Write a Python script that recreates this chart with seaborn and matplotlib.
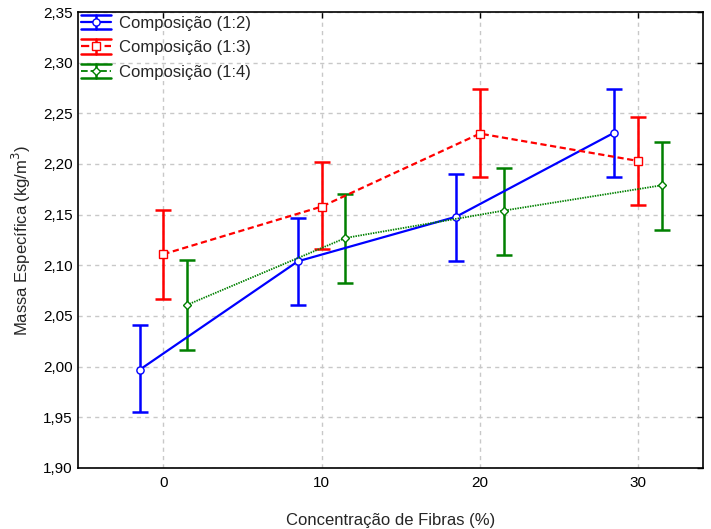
import matplotlib
matplotlib.use("Agg")
import matplotlib.pyplot as plt
from matplotlib.ticker import FuncFormatter, MultipleLocator
from matplotlib.legend_handler import HandlerBase
from matplotlib.lines import Line2D
import seaborn as sns
import pandas as pd

# ---- data ----
concentration = [0, 10, 20, 30]
series_names = ["Composição (1:2)", "Composição (1:3)", "Composição (1:4)"]
offsets = [-1.5, 0.0, 1.5]

mean_12 = [1.997, 2.104, 2.148, 2.231]
low_12 = [1.955, 2.061, 2.104, 2.187]
high_12 = [2.041, 2.147, 2.190, 2.274]

mean_13 = [2.111, 2.158, 2.230, 2.203]
low_13 = [2.067, 2.116, 2.187, 2.160]
high_13 = [2.155, 2.202, 2.274, 2.246]

mean_14 = [2.061, 2.127, 2.154, 2.179]
low_14 = [2.016, 2.083, 2.110, 2.135]
high_14 = [2.105, 2.170, 2.196, 2.222]

means = [mean_12, mean_13, mean_14]
lows = [low_12, low_13, low_14]
highs = [high_12, high_13, high_14]

colors = ["#0000ff", "#ff0000", "#008000"]
markers = ["o", "s", "D"]
msizes = [5.2, 6.0, 4.5]
dashes = [None, (2.8, 1.6), (0.8, 0.6)]
lws = [1.6, 1.6, 1.3]

sns.set_style("white")
plt.rcParams["font.family"] = ["Liberation Sans", "DejaVu Sans"]

rows = []
for name, off, m, lo, hi in zip(series_names, offsets, means, lows, highs):
    for c, mv, l, h in zip(concentration, m, lo, hi):
        rows.append({"serie": name, "x": c + off, "y": mv, "lo": l, "hi": h})
df = pd.DataFrame(rows)

fig = plt.figure(figsize=(7.11, 5.29), dpi=100)
ax = fig.add_axes([78 / 711, 61 / 529, (703 - 78) / 711, (468 - 12) / 529])

lines = []
for i, name in enumerate(series_names):
    sub = df[df["serie"] == name]
    ax.errorbar(sub["x"], sub["y"],
                yerr=[sub["y"] - sub["lo"], sub["hi"] - sub["y"]],
                fmt="none", ecolor=colors[i], elinewidth=1.8,
                capsize=6, capthick=1.8, zorder=3)
    sns.lineplot(data=sub, x="x", y="y", ax=ax, color=colors[i],
                 linewidth=lws[i], marker=markers[i], markersize=msizes[i],
                 markerfacecolor="white", markeredgecolor=colors[i],
                 markeredgewidth=1.0, legend=False, zorder=4,
                 sort=False, errorbar=None)
    ln = ax.lines[-1]
    if dashes[i] is not None:
        ln.set_dashes(dashes[i])
    lines.append(ln)


class ErrorbarLegendHandler(HandlerBase):
    def create_artists(self, legend, orig, xdescent, ydescent, width, height,
                       fontsize, trans):
        c = orig.get_color()
        x0, x1 = -xdescent, width - xdescent
        y0, y1 = -ydescent, height - ydescent
        ym = (y0 + y1) / 2
        xm = (x0 + x1) / 2
        arts = [
            Line2D([x0, x1], [y0, y0], color=c, lw=1.8),
            Line2D([x0, x1], [y1, y1], color=c, lw=1.8),
            Line2D([xm, xm], [y0, y1], color=c, lw=1.8),
            Line2D([x0, x1], [ym, ym], color=c, lw=orig.get_linewidth(),
                   linestyle=orig.get_linestyle()),
            Line2D([xm], [ym], marker=orig.get_marker(),
                   markersize=orig.get_markersize(), markerfacecolor="white",
                   markeredgecolor=c, markeredgewidth=1.0, linestyle="none"),
        ]
        for a in arts:
            a.set_transform(trans)
        return arts


ax.set_xlim(-5.4, 34.1)
ax.set_ylim(1.90, 2.35)
ax.xaxis.set_major_locator(MultipleLocator(10))
ax.yaxis.set_major_locator(MultipleLocator(0.05))
ax.yaxis.set_major_formatter(FuncFormatter(lambda v, p: f"{v:.2f}".replace(".", ",")))

ax.grid(True, color="#c8c8c8", linestyle=(0, (3, 3)), linewidth=1.0)
ax.set_axisbelow(True)
for s in ax.spines.values():
    s.set_color("black")
    s.set_linewidth(1.2)
ax.tick_params(direction="in", length=4, width=1, top=True, right=True,
               labelsize=11, colors="black")
ax.tick_params(axis="y", pad=4)
ax.tick_params(axis="x", pad=6)

ax.set_xlabel("Concentração de Fibras (%)", fontsize=12, labelpad=16)
ax.set_ylabel("Massa Específica (kg/m$^3$)", fontsize=12, labelpad=7)

handler = ErrorbarLegendHandler()
ax.legend(lines, series_names, loc="upper left", frameon=False,
          fontsize=12, handlelength=1.8, handleheight=1.0, handletextpad=0.5,
          borderaxespad=0.05, borderpad=0.1, labelspacing=0.5,
          handler_map={ln: handler for ln in lines})

fig.savefig("out.png", dpi=100)
